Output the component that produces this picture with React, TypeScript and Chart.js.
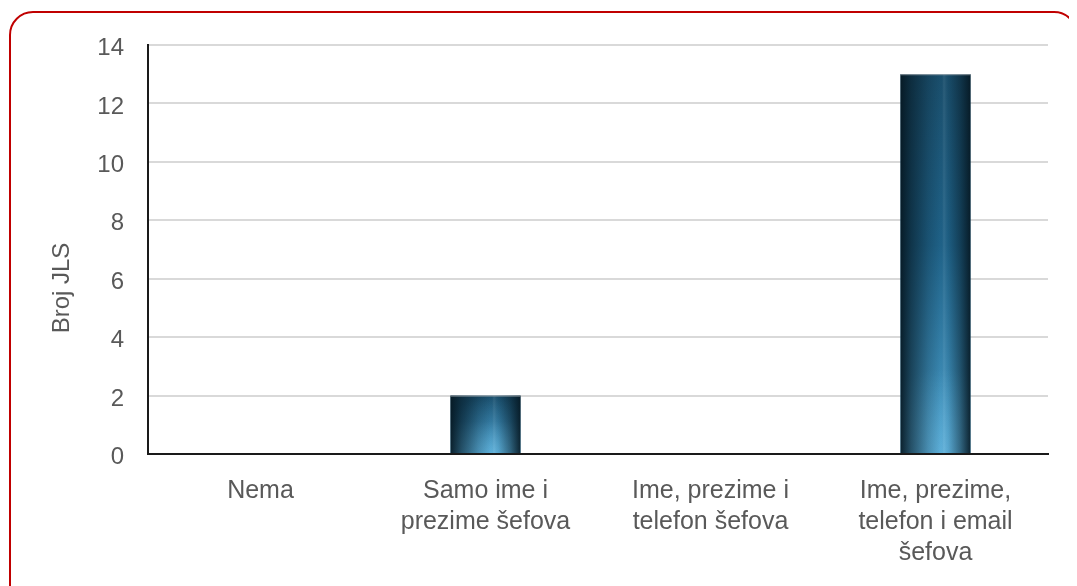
import React, { useEffect, useRef } from "react";
import { Chart, registerables } from "chart.js";

Chart.register(...registerables);

const categories: (string | string[])[] = [
  "Nema",
  ["Samo ime i", "prezime šefova"],
  ["Ime, prezime i", "telefon šefova"],
  ["Ime, prezime,", "telefon i email", "šefova"],
];
const values: number[] = [0, 2, 0, 13];
const yTicks: number[] = [0, 2, 4, 6, 8, 10, 12, 14];
const yTitle = "Broj JLS";

const FONT = "'Liberation Sans', Arial, sans-serif";
const TEXT = "#595959";

const barPainter = {
  id: "barPainter",
  afterDatasetsDraw(chart: any) {
    const ctx = chart.ctx as CanvasRenderingContext2D;
    const meta = chart.getDatasetMeta(0);
    meta.data.forEach((bar: any) => {
      const { x, y, base, width } = bar.getProps(["x", "y", "base", "width"], true);
      const left = x - width / 2;
      const top = Math.min(y, base);
      const h = Math.abs(base - y);
      if (h < 0.5) return;
      ctx.save();
      const vg = ctx.createLinearGradient(0, top, 0, top + h);
      vg.addColorStop(0, "#1a4f6d");
      vg.addColorStop(0.45, "#1f6288");
      vg.addColorStop(1, "#4a9fcb");
      ctx.fillStyle = vg;
      ctx.fillRect(left, top, width, h);
      const r = Math.min(h, width * 1.2);
      const rg = ctx.createRadialGradient(left + width * 0.6, top + h, 0, left + width * 0.6, top + h, r);
      rg.addColorStop(0, "rgba(110,190,230,0.55)");
      rg.addColorStop(1, "rgba(110,190,230,0)");
      ctx.fillStyle = rg;
      ctx.fillRect(left, top, width, h);
      const hg = ctx.createLinearGradient(left, 0, left + width, 0);
      hg.addColorStop(0, "rgba(5,22,32,0.92)");
      hg.addColorStop(0.15, "rgba(5,22,32,0.6)");
      hg.addColorStop(0.4, "rgba(5,22,32,0.2)");
      hg.addColorStop(0.58, "rgba(5,22,32,0.0)");
      hg.addColorStop(0.62, "rgba(255,255,255,0.08)");
      hg.addColorStop(0.68, "rgba(5,22,32,0.05)");
      hg.addColorStop(0.85, "rgba(5,22,32,0.45)");
      hg.addColorStop(1, "rgba(5,22,32,0.9)");
      ctx.fillStyle = hg;
      ctx.fillRect(left, top, width, h);
      ctx.fillStyle = "rgba(160,170,176,0.8)";
      ctx.fillRect(left, top, width, 1);
      ctx.restore();
    });
  },
};

const yTitlePainter = {
  id: "yTitlePainter",
  afterDraw(chart: any) {
    const ctx = chart.ctx as CanvasRenderingContext2D;
    ctx.save();
    ctx.translate(62, 288);
    ctx.rotate(-Math.PI / 2);
    ctx.font = `24px ${FONT}`;
    ctx.fillStyle = TEXT;
    ctx.textAlign = "center";
    ctx.textBaseline = "middle";
    ctx.fillText(yTitle, 0, 0);
    ctx.restore();
  },
};

export default function App() {
  const ref = useRef<HTMLCanvasElement | null>(null);

  useEffect(() => {
    document.documentElement.style.overflow = "hidden";
    document.body.style.overflow = "hidden";
    const canvas = ref.current;
    if (!canvas) return;
    const chart = new Chart(canvas, {
      type: "bar",
      data: {
        labels: categories as any,
        datasets: [
          {
            data: values,
            backgroundColor: "rgba(0,0,0,0)",
            borderWidth: 0,
            categoryPercentage: 1,
            barPercentage: 0.311,
          },
        ],
      },
      plugins: [barPainter, yTitlePainter],
      options: {
        responsive: false,
        animation: false,
        maintainAspectRatio: false,
        layout: { padding: { top: 45, right: 29, bottom: 0, left: 0 } },
        plugins: {
          legend: { display: false },
          tooltip: { enabled: false },
          title: { display: false },
        },
        scales: {
          x: {
            grid: { display: false, drawTicks: false },
            border: { display: true, color: "#1a1a1a", width: 2 },
            ticks: {
              color: TEXT,
              font: { family: FONT, size: 25, lineHeight: 1.24 },
              padding: 22,
              maxRotation: 0,
              autoSkip: false,
            },
            afterFit: (s: any) => {
              s.height = 132;
            },
          },
          y: {
            min: 0,
            max: 14,
            afterBuildTicks: (s: any) => {
              s.ticks = yTicks.map((v) => ({ value: v }));
            },
            grid: { color: "#d9d9d9", lineWidth: 2, drawTicks: false },
            border: { display: true, color: "#1a1a1a", width: 2 },
            ticks: {
              color: TEXT,
              font: { family: FONT, size: 24, lineHeight: 7 / 24 * 1 },
              padding: 24,
              callback: (v: any) => ["", String(v)],
            },
            title: { display: false },
            afterFit: (s: any) => {
              s.width = 148;
            },
          },
        },
      },
    });
    return () => chart.destroy();
  }, []);

  return (
    <div style={{ position: "relative", width: 1077, height: 586 }}>
      <div
        style={{
          position: "absolute",
          left: 1,
          top: 3,
          width: 1069,
          height: 610,
          boxSizing: "border-box",
          border: "2px solid #c00000",
          borderRadius: 24,
        }}
      />
      <canvas
        ref={ref}
        width={1077}
        height={586}
        style={{ position: "absolute", left: -8, top: -8, width: 1077, height: 586 }}
      />
    </div>
  );
}
